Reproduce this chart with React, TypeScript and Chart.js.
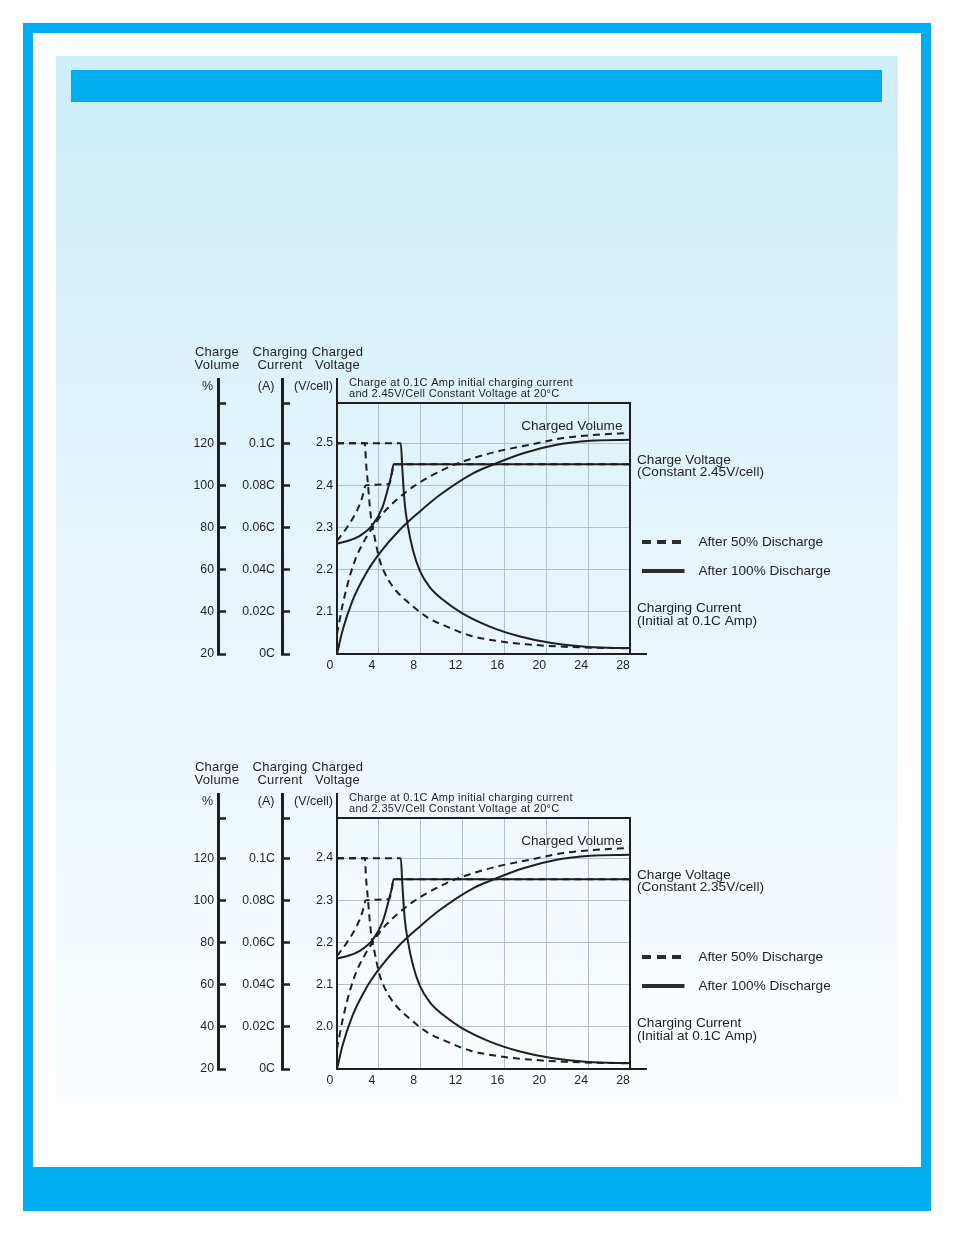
import React, { useEffect, useRef } from 'react';
import { Chart, registerables } from 'chart.js';

Chart.register(...registerables);

const FONT = "'Liberation Sans', Arial, Helvetica, sans-serif";
const INK = '#1f1f1f';
const GRID = '#b3c2c8';
Chart.defaults.font.family = FONT;
Chart.defaults.color = INK;

// ---------- axis ticks ----------
const PCT_TICKS = [20, 40, 60, 80, 100, 120];
const PCT_LABELS = ['20', '40', '60', '80', '100', '120'];
const PCT_MAX = 139.05;
const CUR_TICKS = [0, 0.02, 0.04, 0.06, 0.08, 0.1];
const CUR_LABELS = ['0C', '0.02C', '0.04C', '0.06C', '0.08C', '0.1C'];
const CUR_MAX = 0.11905;
const V_TICKS_245 = [2.1, 2.2, 2.3, 2.4, 2.5];
const V_LABELS_245 = ['2.1', '2.2', '2.3', '2.4', '2.5'];
const V_RANGE_245 = [2.0, 2.595];
const V_TICKS_235 = [2.0, 2.1, 2.2, 2.3, 2.4];
const V_LABELS_235 = ['2.0', '2.1', '2.2', '2.3', '2.4'];
const V_RANGE_235 = [1.9, 2.495];
const HOURS_RANGE = [0, 28];
const HOURS_STEP = 4;

// ---------- charged volume (%) ----------
const HOURS_VOL_FULL = [0, 0.53, 1.49, 2.76, 4.04, 5.96, 7.87, 9.82, 13.0, 15.0, 17.8, 21.0, 24.2, 28];
const VOLUME_FULL = [20, 31.1, 45.4, 58.1, 67.6, 78.7, 87.4, 95.4, 105.7, 110.0, 115.2, 119.2, 121.1, 121.6];
const HOURS_VOL_HALF = [0, 0.56, 1.2, 1.84, 2.47, 3.43, 4.39, 5.67, 7.26, 8.86, 10.8, 12.7, 15.25, 18.4, 21.6, 24.8, 28];
const VOLUME_HALF = [29.5, 43.8, 56.5, 66, 72.4, 80.3, 86.7, 93, 99.3, 104.1, 108.9, 112.4, 116, 119.2, 122.4, 124, 124.8];

// ---------- charging current (C) ----------
const HOURS_CUR_FULL = [0, 6.1, 6.24, 6.47, 6.78, 7.26, 7.9, 8.86, 10.1, 11.9, 14.6, 17.5, 20.5, 24.0, 28];
const CURRENT_FULL = [0.1, 0.1, 0.088, 0.0714, 0.0605, 0.0492, 0.0397, 0.0317, 0.0258, 0.0195, 0.013, 0.0083, 0.0052, 0.0033, 0.0028];
const HOURS_CUR_HALF = [0, 2.65, 2.8, 2.95, 3.11, 3.28, 3.59, 4.05, 4.7, 5.65, 6.93, 8.6, 10.5, 12.7, 15.25, 18.4, 21.0, 24.5, 28];
const CURRENT_HALF = [0.1, 0.1, 0.089, 0.081, 0.0714, 0.0635, 0.0555, 0.045, 0.037, 0.03, 0.024, 0.0175, 0.013, 0.0088, 0.0062, 0.0045, 0.0036, 0.003, 0.0027];

// ---------- charge voltage (V/cell) ----------
const HOURS_V_FULL = [0, 1, 2.1, 3.4, 4.36, 5.0, 5.25, 5.41, 28];
const VOLT_FULL_245 = [2.262, 2.268, 2.279, 2.306, 2.349, 2.405, 2.43, 2.45, 2.45];
const VOLT_FULL_235 = [2.162, 2.168, 2.179, 2.206, 2.249, 2.305, 2.33, 2.35, 2.35];
const HOURS_V_HALF = [0, 0.95, 1.85, 2.4, 2.76, 5.0, 5.25, 5.41, 28];
const VOLT_HALF_245 = [2.268, 2.3, 2.337, 2.37, 2.4, 2.403, 2.43, 2.45, 2.45];
const VOLT_HALF_235 = [2.168, 2.2, 2.237, 2.27, 2.3, 2.303, 2.33, 2.35, 2.35];

type Variant = {
  vTicks: number[];
  vLabels: string[];
  vRange: number[];
  vFull: number[];
  vHalf: number[];
  info: string[];
  constText: string;
};

const VARIANT_245: Variant = {
  vTicks: V_TICKS_245,
  vLabels: V_LABELS_245,
  vRange: V_RANGE_245,
  vFull: VOLT_FULL_245,
  vHalf: VOLT_HALF_245,
  info: ['Charge at 0.1C Amp initial charging current', 'and 2.45V/Cell Constant Voltage at 20°C'],
  constText: '(Constant 2.45V/cell)',
};
const VARIANT_235: Variant = {
  vTicks: V_TICKS_235,
  vLabels: V_LABELS_235,
  vRange: V_RANGE_235,
  vFull: VOLT_FULL_235,
  vHalf: VOLT_HALF_235,
  info: ['Charge at 0.1C Amp initial charging current', 'and 2.35V/Cell Constant Voltage at 20°C'],
  constText: '(Constant 2.35V/cell)',
};

const pts = (xs: number[], ys: number[]) => xs.map((x, i) => ({ x, y: ys[i] }));
const align = (v: number, w: number) => Math.round(v - w / 2) + w / 2;

function setSpacing(ctx: any, px: number) {
  if ('letterSpacing' in ctx) ctx.letterSpacing = `${px}px`;
}

function decorPlugin(v: Variant) {
  return {
    id: 'decor',
    afterDraw(chart: any) {
      const { ctx, chartArea: ca, scales } = chart;
      ctx.save();
      ctx.strokeStyle = INK;
      // extend the three left axis lines upward
      const ext: [string, number][] = [['yPct', 3], ['yCur', 3], ['yV', 2]];
      for (const [id, w] of ext) {
        const x = align(scales[id].right, w);
        ctx.lineWidth = w;
        ctx.beginPath();
        ctx.moveTo(x, ca.top + 1);
        ctx.lineTo(x, ca.top - 25);
        ctx.stroke();
      }
      // bottom axis extension
      ctx.lineWidth = 2;
      const yb = align(ca.bottom, 2);
      ctx.beginPath();
      ctx.moveTo(ca.right, yb);
      ctx.lineTo(ca.right + 17, yb);
      ctx.stroke();

      ctx.fillStyle = INK;
      ctx.textBaseline = 'middle';
      // headers
      ctx.font = `13px ${FONT}`;
      setSpacing(ctx, 0.25);
      ctx.textAlign = 'center';
      const heads: [string, number, string, string][] = [
        ['yPct', -1, 'Charge', 'Volume'],
        ['yCur', -2, 'Charging', 'Current'],
        ['yV', 0.5, 'Charged', 'Voltage'],
      ];
      for (const [id, dx, a, b] of heads) {
        const x = scales[id].right + dx;
        ctx.fillText(a, x, ca.top - 51);
        ctx.fillText(b, x, ca.top - 38);
      }
      setSpacing(ctx, 0);
      ctx.font = `12.5px ${FONT}`;
      ctx.textAlign = 'right';
      ctx.fillText('%', scales.yPct.right - 5, ca.top - 16.5);
      ctx.fillText('(A)', scales.yCur.right - 7.5, ca.top - 16.5);
      ctx.fillText('(V/cell)', scales.yV.right - 4, ca.top - 16.5);

      // info text
      ctx.font = `11px ${FONT}`;
      setSpacing(ctx, 0.3);
      ctx.textAlign = 'left';
      ctx.fillText(v.info[0], ca.left + 12, ca.top - 20.5);
      ctx.fillText(v.info[1], ca.left + 12, ca.top - 9);
      setSpacing(ctx, 0);

      // in-plot label
      ctx.font = `13.6px ${FONT}`;
      ctx.textAlign = 'right';
      ctx.fillText('Charged Volume', ca.right - 7.5, ca.top + 23);

      // right notes
      ctx.textAlign = 'left';
      const rx = ca.right + 7;
      ctx.fillText('Charge Voltage', rx, ca.top + 57);
      ctx.fillText(v.constText, rx, ca.top + 69.5);
      ctx.fillText('After 50% Discharge', ca.right + 68.5, ca.top + 139.5);
      ctx.fillText('After 100% Discharge', ca.right + 68.5, ca.top + 168.5);
      ctx.fillText('Charging Current', rx, ca.top + 205.5);
      ctx.fillText('(Initial at 0.1C Amp)', rx, ca.top + 218.5);

      // legend samples
      ctx.strokeStyle = '#2b2b2b';
      ctx.lineWidth = 4;
      ctx.setLineDash([9, 6]);
      ctx.beginPath();
      ctx.moveTo(ca.right + 12, ca.top + 139);
      ctx.lineTo(ca.right + 52, ca.top + 139);
      ctx.stroke();
      ctx.setLineDash([]);
      ctx.beginPath();
      ctx.moveTo(ca.right + 12, ca.top + 168);
      ctx.lineTo(ca.right + 54.5, ca.top + 168);
      ctx.stroke();
      ctx.restore();
    },
  };
}

function makeConfig(v: Variant): any {
  const dash = [7, 5];
  const base = {
    borderColor: INK,
    borderWidth: 2,
    pointRadius: 0,
    fill: false,
    cubicInterpolationMode: 'monotone',
    xAxisID: 'x',
  };
  const datasets = [
    { label: 'Charged Volume – after 100% discharge', data: pts(HOURS_VOL_FULL, VOLUME_FULL), yAxisID: 'yPct' },
    { label: 'Charged Volume – after 50% discharge', data: pts(HOURS_VOL_HALF, VOLUME_HALF), yAxisID: 'yPct', borderDash: dash },
    { label: 'Charge Voltage – after 100% discharge', data: pts(HOURS_V_FULL, v.vFull), yAxisID: 'yV' },
    { label: 'Charge Voltage – after 50% discharge', data: pts(HOURS_V_HALF, v.vHalf), yAxisID: 'yV', borderDash: dash },
    {
      label: 'Charging Current – after 100% discharge',
      data: pts(HOURS_CUR_FULL, CURRENT_FULL),
      yAxisID: 'yCur',
      segment: { borderDash: (c: any) => (c.p1DataIndex <= 1 ? dash : undefined) },
    },
    { label: 'Charging Current – after 50% discharge', data: pts(HOURS_CUR_HALF, CURRENT_HALF), yAxisID: 'yCur', borderDash: dash },
  ].map((d) => ({ ...base, ...d }));

  const leftAxis = (
    weight: number,
    min: number,
    max: number,
    ticks: number[],
    labels: string[],
    width: number,
    padding: number,
  ) => ({
    type: 'linear',
    position: 'left',
    weight,
    min,
    max,
    afterBuildTicks: (s: any) => {
      s.ticks = [...ticks, max].map((value) => ({ value }));
    },
    ticks: {
      autoSkip: false,
      padding,
      color: INK,
      font: { size: 12.3 },
      callback: (_val: any, i: number) => labels[i] ?? '',
    },
    grid: { drawOnChartArea: false, drawTicks: true, tickLength: -8, tickColor: INK, tickWidth: 2.5 },
    border: { color: INK, width: 3 },
    afterFit: (s: any) => {
      s.width = width;
    },
  });

  return {
    type: 'line',
    data: { datasets },
    options: {
      responsive: false,
      animation: false,
      events: [],
      layout: { padding: { top: 68, right: 220, bottom: 5, left: 0 } },
      plugins: { legend: { display: false }, tooltip: { enabled: false } },
      scales: {
        x: {
          type: 'linear',
          position: 'bottom',
          min: HOURS_RANGE[0],
          max: HOURS_RANGE[1],
          ticks: { stepSize: HOURS_STEP, color: INK, font: { size: 12.3 }, padding: 4, labelOffset: -7, maxRotation: 0, autoSkip: false },
          grid: { color: GRID, lineWidth: 1, drawTicks: false },
          border: { color: INK, width: 2 },
          afterFit: (s: any) => {
            s.height = 26;
          },
        },
        x2: {
          type: 'linear',
          position: 'top',
          min: HOURS_RANGE[0],
          max: HOURS_RANGE[1],
          ticks: { display: false },
          grid: { drawOnChartArea: false, drawTicks: false },
          border: { color: INK, width: 2 },
          afterFit: (s: any) => {
            s.height = 0;
          },
        },
        yR: {
          type: 'linear',
          position: 'right',
          min: 0,
          max: 1,
          ticks: { display: false },
          grid: { drawOnChartArea: false, drawTicks: false },
          border: { color: INK, width: 2 },
          afterFit: (s: any) => {
            s.width = 0;
          },
        },
        yV: {
          type: 'linear',
          position: 'left',
          weight: 1,
          min: v.vRange[0],
          max: v.vRange[1],
          afterBuildTicks: (s: any) => {
            s.ticks = v.vTicks.map((value) => ({ value }));
          },
          ticks: {
            autoSkip: false,
            padding: 4,
            color: INK,
            font: { size: 12.3 },
            callback: (_val: any, i: number) => v.vLabels[i] ?? '',
          },
          grid: { color: GRID, lineWidth: 1, drawTicks: false },
          border: { color: INK, width: 2 },
          afterFit: (s: any) => {
            s.width = 55;
          },
        },
        yCur: leftAxis(2, 0, CUR_MAX, CUR_TICKS, CUR_LABELS, 64, 15),
        yPct: leftAxis(3, PCT_TICKS[0], PCT_MAX, PCT_TICKS, PCT_LABELS, 33, 12),
      },
    },
    plugins: [decorPlugin(v)],
  };
}

function ChargeChart({ variant, top }: { variant: Variant; top: number }) {
  const ref = useRef<HTMLCanvasElement | null>(null);
  useEffect(() => {
    if (!ref.current) return;
    const chart = new Chart(ref.current, makeConfig(variant));
    return () => chart.destroy();
  }, [variant]);
  return (
    <canvas
      ref={ref}
      width={665}
      height={350}
      style={{ position: 'absolute', left: 185, top, width: 665, height: 350 }}
    />
  );
}

export default function App() {
  return (
    <div style={{ position: 'absolute', left: 0, top: 0, width: 954, height: 1235, overflow: 'hidden', background: '#ffffff' }}>
      <div style={{ position: 'absolute', left: 23, top: 23, width: 908, height: 1188, background: '#00aeef' }} />
      <div style={{ position: 'absolute', left: 33, top: 33, width: 888, height: 1134, background: '#ffffff' }} />
      <div
        style={{
          position: 'absolute',
          left: 56,
          top: 56,
          width: 842,
          height: 1047,
          background: 'linear-gradient(180deg, #cdeefa 0%, #e2f4fb 40%, #fbfdfe 100%)',
        }}
      />
      <div style={{ position: 'absolute', left: 71, top: 70, width: 811, height: 32, background: '#00aeef' }} />
      <ChargeChart variant={VARIANT_245} top={335} />
      <ChargeChart variant={VARIANT_235} top={750} />
    </div>
  );
}
